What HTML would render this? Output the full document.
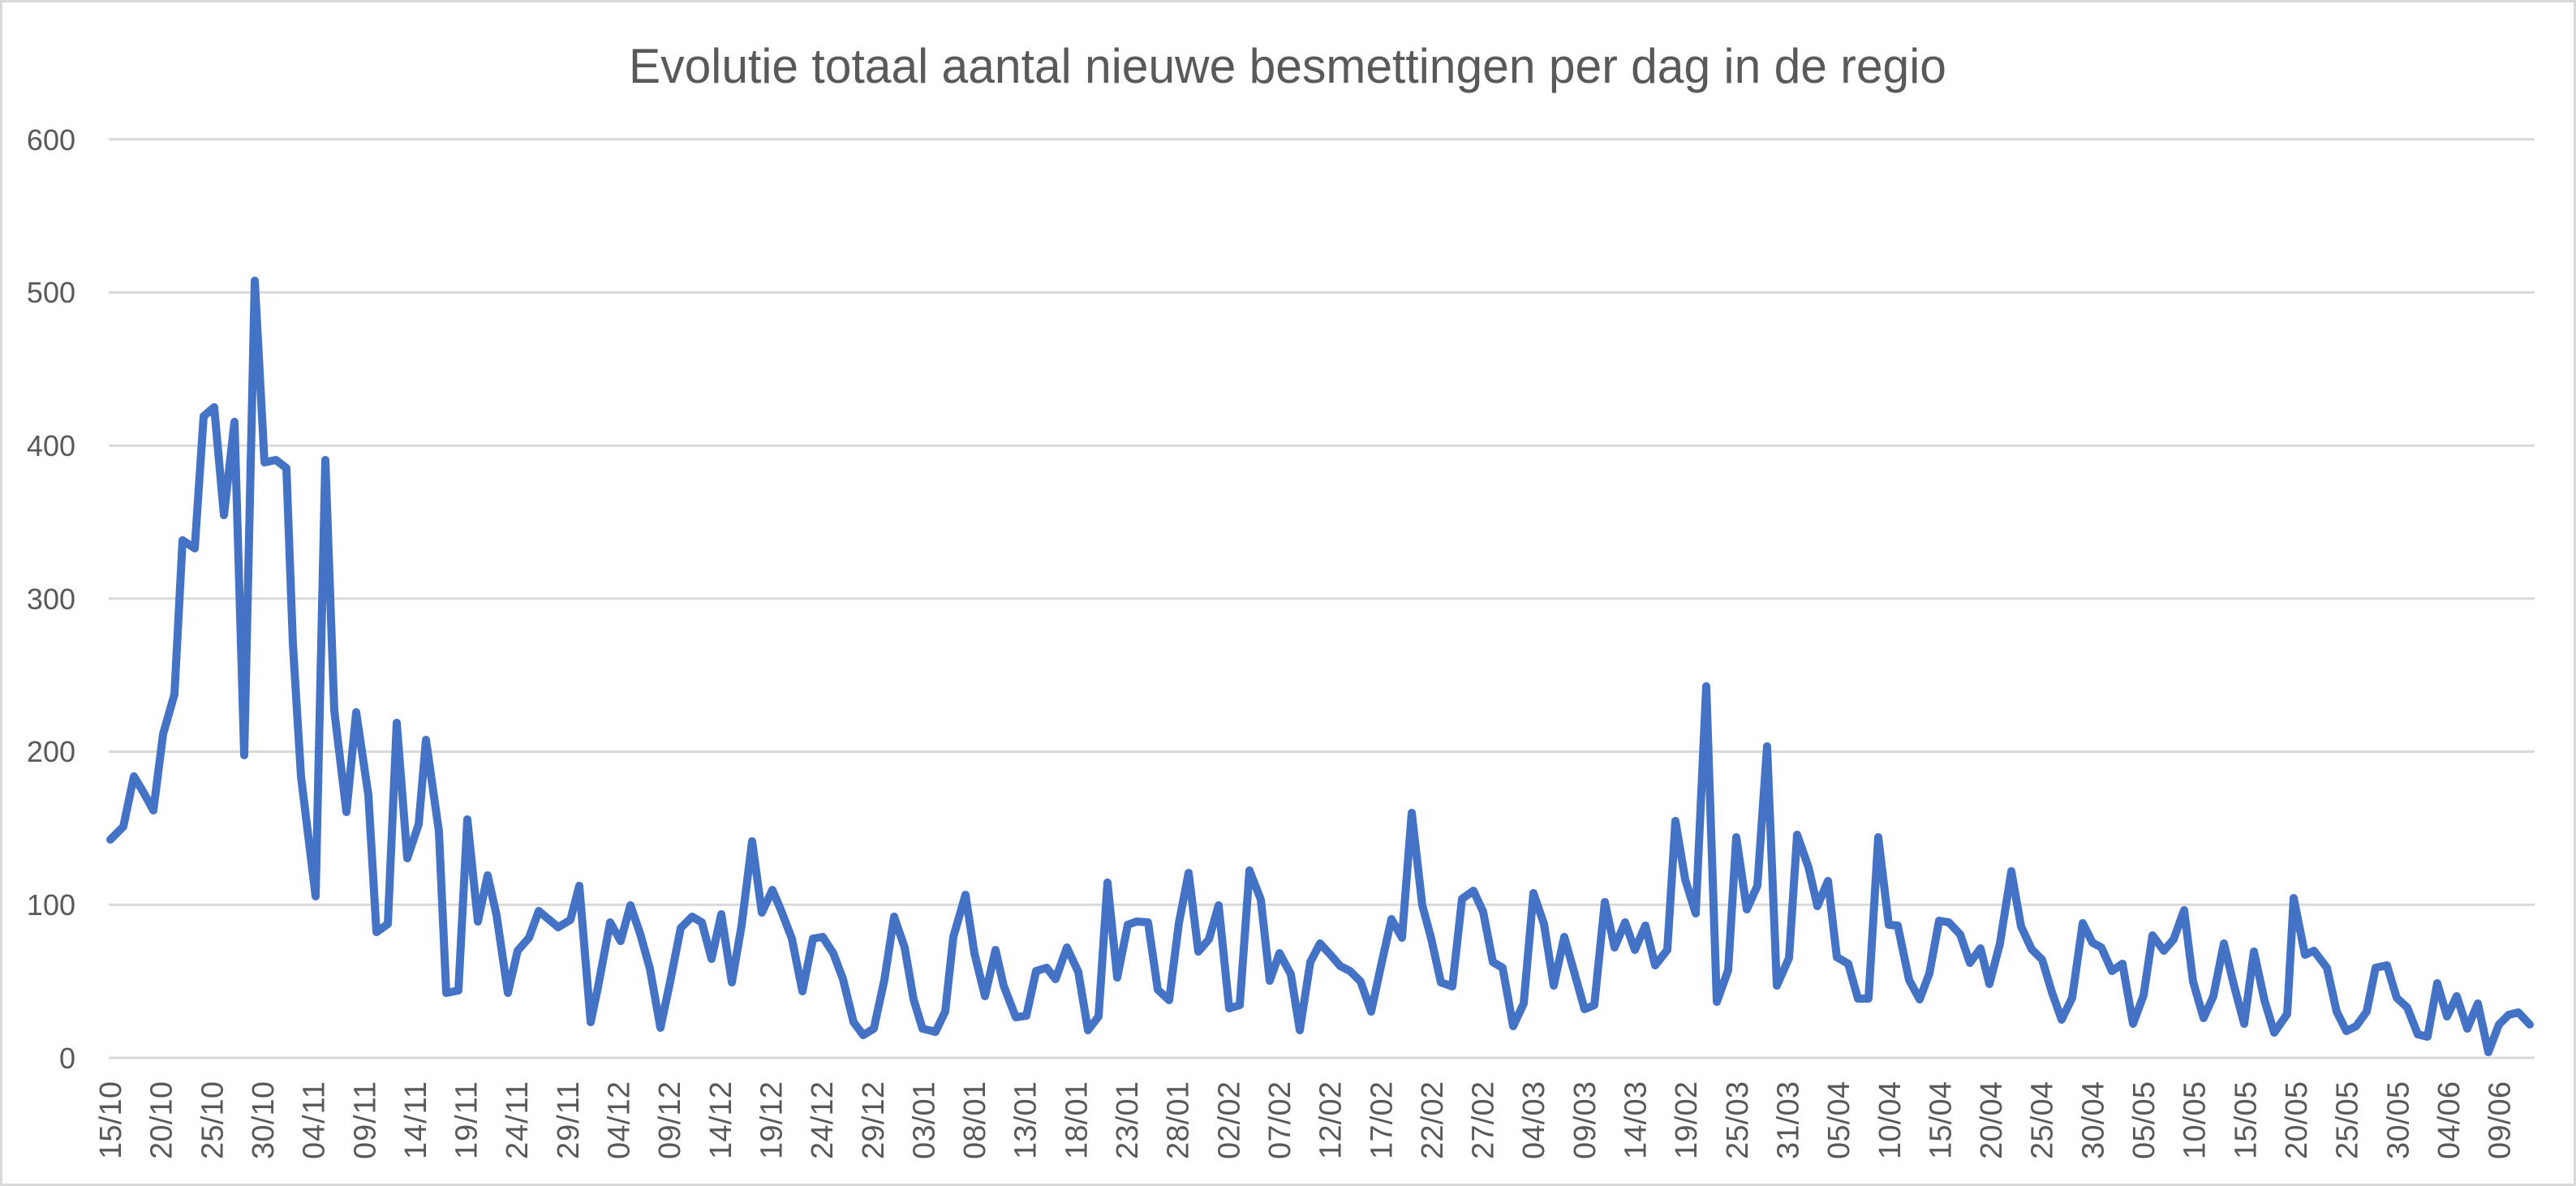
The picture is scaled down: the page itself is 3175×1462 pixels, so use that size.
<!DOCTYPE html>
<html><head><meta charset="utf-8"><style>html,body{margin:0;padding:0;background:#fff}svg{display:block}</style></head>
<body>
<svg width="3175" height="1462" viewBox="0 0 3175 1462" xmlns="http://www.w3.org/2000/svg" font-family="'Liberation Sans', sans-serif">
<rect x="1.5" y="1.5" width="3172" height="1459" fill="#fff" stroke="#d9d9d9" stroke-width="3"/>
<text x="1587" y="102" font-size="60" fill="#595959" text-anchor="middle" textLength="1624" lengthAdjust="spacingAndGlyphs">Evolutie totaal aantal nieuwe besmettingen per dag in de regio</text>
<g stroke="#d9d9d9" stroke-width="3">
<line x1="134" x2="3124" y1="1304" y2="1304"/>
<line x1="134" x2="3124" y1="1115.3" y2="1115.3"/>
<line x1="134" x2="3124" y1="926.6" y2="926.6"/>
<line x1="134" x2="3124" y1="737.9" y2="737.9"/>
<line x1="134" x2="3124" y1="549.2" y2="549.2"/>
<line x1="134" x2="3124" y1="360.5" y2="360.5"/>
<line x1="134" x2="3124" y1="171.8" y2="171.8"/>
</g>
<g font-size="36" fill="#595959" text-anchor="end">
<text x="93" y="1317">0</text>
<text x="93" y="1128">100</text>
<text x="93" y="939">200</text>
<text x="93" y="751">300</text>
<text x="93" y="562">400</text>
<text x="93" y="373">500</text>
<text x="93" y="185">600</text>
</g>
<polyline fill="none" stroke="#4472C4" stroke-width="10" stroke-linejoin="round" stroke-linecap="round" points="
136,1035 152,1019 165,957 177,977 189,999 201,905 215,856 225,666 240,676 251,513 264,502 276,635 289,520 301,931 314,346 326,570 340,567 353,577 361,794 371,957 389,1105 401,567 412,876 427,1001 439,878 454,980 464,1149 478,1139 489,891 502,1058 516,1016 525,912 541,1025 550,1224 565,1221 576,1010 589,1136 601,1079 612,1128 626,1224 638,1172 652,1156 664,1123 676,1133 688,1143 703,1134 714,1092 728,1260 737,1217
752,1137 765,1160 777,1116 789,1151 801,1194 814,1267 826,1210 839,1144 853,1130 865,1137 877,1182 889,1127 902,1211 914,1141 927,1037 939,1125 952,1097 963,1123 976,1157 989,1222 1002,1157 1014,1155 1027,1175 1039,1207 1052,1260 1064,1276 1077,1268 1090,1208 1102,1130 1115,1168 1126,1232 1137,1268 1153,1272 1165,1247 1175,1155 1190,1103 1201,1175 1214,1228 1227,1171 1237,1215 1252,1254 1265,1252 1277,1197 1290,1193 1301,1207 1315,1168 1329,1198 1341,1270 1354,1253
1365,1088 1377,1205 1390,1140 1401,1136 1415,1137 1427,1220 1441,1233 1453,1138 1465,1076 1477,1173 1490,1158 1502,1116 1515,1243 1528,1239 1540,1073 1554,1109 1565,1209 1577,1175 1591,1201 1602,1270 1615,1186 1627,1163 1639,1176 1652,1191 1664,1197 1677,1210 1690,1247 1702,1191 1715,1133 1728,1156 1740,1002 1753,1116 1764,1157 1776,1211 1790,1216 1802,1108 1816,1098 1828,1124 1840,1186 1852,1193 1865,1265 1878,1237 1890,1101 1903,1139 1915,1215 1928,1155 1941,1201 1953,1244 1965,1239
1978,1112 1990,1168 2003,1137 2015,1171 2028,1141 2040,1190 2055,1171 2065,1012 2077,1084 2090,1126 2103,846 2116,1235 2130,1196 2140,1032 2153,1121 2166,1092 2178,920 2190,1215 2205,1181 2215,1029 2229,1069 2240,1117 2253,1086 2264,1180 2278,1188 2290,1231 2303,1231 2315,1032
2328,1140 2339,1141 2353,1208 2366,1232 2378,1200 2390,1135 2402,1137 2416,1152 2428,1187 2441,1169 2452,1213 2465,1163 2479,1074 2491,1142 2504,1170 2517,1183 2529,1223 2541,1257 2554,1230 2567,1138 2579,1162 2590,1168 2603,1197 2616,1188 2629,1262 2642,1227 2653,1153 2667,1172 2679,1158 2692,1122 2703,1210 2716,1255 2728,1228 2741,1163 2753,1213 2766,1262 2778,1173 2791,1233 2803,1273 2819,1250 2827,1107 2841,1177 2852,1172 2868,1193 2880,1247 2892,1271 2904,1265 2917,1247 2928,1193 2942,1190 2954,1230 2967,1242 2980,1275 2992,1278 3004,1212 3016,1253 3028,1228 3041,1268 3054,1237 3067,1297 3080,1263 3092,1251 3104,1248 3118,1263"/>
<g font-size="38" fill="#595959" text-anchor="end" lengthAdjust="spacingAndGlyphs">
<text transform="translate(149,1333) rotate(-90)" textLength="96">15/10</text>
<text transform="translate(211.7,1333) rotate(-90)" textLength="96">20/10</text>
<text transform="translate(274.3,1333) rotate(-90)" textLength="96">25/10</text>
<text transform="translate(337,1333) rotate(-90)" textLength="96">30/10</text>
<text transform="translate(399.6,1333) rotate(-90)" textLength="96">04/11</text>
<text transform="translate(462.3,1333) rotate(-90)" textLength="96">09/11</text>
<text transform="translate(524.9,1333) rotate(-90)" textLength="96">14/11</text>
<text transform="translate(587.6,1333) rotate(-90)" textLength="96">19/11</text>
<text transform="translate(650.2,1333) rotate(-90)" textLength="96">24/11</text>
<text transform="translate(712.9,1333) rotate(-90)" textLength="96">29/11</text>
<text transform="translate(775.5,1333) rotate(-90)" textLength="96">04/12</text>
<text transform="translate(838.2,1333) rotate(-90)" textLength="96">09/12</text>
<text transform="translate(900.8,1333) rotate(-90)" textLength="96">14/12</text>
<text transform="translate(963.5,1333) rotate(-90)" textLength="96">19/12</text>
<text transform="translate(1026.1,1333) rotate(-90)" textLength="96">24/12</text>
<text transform="translate(1088.8,1333) rotate(-90)" textLength="96">29/12</text>
<text transform="translate(1151.4,1333) rotate(-90)" textLength="96">03/01</text>
<text transform="translate(1214.1,1333) rotate(-90)" textLength="96">08/01</text>
<text transform="translate(1276.7,1333) rotate(-90)" textLength="96">13/01</text>
<text transform="translate(1339.4,1333) rotate(-90)" textLength="96">18/01</text>
<text transform="translate(1402,1333) rotate(-90)" textLength="96">23/01</text>
<text transform="translate(1464.7,1333) rotate(-90)" textLength="96">28/01</text>
<text transform="translate(1527.3,1333) rotate(-90)" textLength="96">02/02</text>
<text transform="translate(1590,1333) rotate(-90)" textLength="96">07/02</text>
<text transform="translate(1652.6,1333) rotate(-90)" textLength="96">12/02</text>
<text transform="translate(1715.3,1333) rotate(-90)" textLength="96">17/02</text>
<text transform="translate(1777.9,1333) rotate(-90)" textLength="96">22/02</text>
<text transform="translate(1840.6,1333) rotate(-90)" textLength="96">27/02</text>
<text transform="translate(1903.2,1333) rotate(-90)" textLength="96">04/03</text>
<text transform="translate(1965.9,1333) rotate(-90)" textLength="96">09/03</text>
<text transform="translate(2028.5,1333) rotate(-90)" textLength="96">14/03</text>
<text transform="translate(2091.2,1333) rotate(-90)" textLength="96">19/02</text>
<text transform="translate(2153.8,1333) rotate(-90)" textLength="96">25/03</text>
<text transform="translate(2216.5,1333) rotate(-90)" textLength="96">31/03</text>
<text transform="translate(2279.1,1333) rotate(-90)" textLength="96">05/04</text>
<text transform="translate(2341.8,1333) rotate(-90)" textLength="96">10/04</text>
<text transform="translate(2404.4,1333) rotate(-90)" textLength="96">15/04</text>
<text transform="translate(2467.1,1333) rotate(-90)" textLength="96">20/04</text>
<text transform="translate(2529.7,1333) rotate(-90)" textLength="96">25/04</text>
<text transform="translate(2592.4,1333) rotate(-90)" textLength="96">30/04</text>
<text transform="translate(2655,1333) rotate(-90)" textLength="96">05/05</text>
<text transform="translate(2717.7,1333) rotate(-90)" textLength="96">10/05</text>
<text transform="translate(2780.3,1333) rotate(-90)" textLength="96">15/05</text>
<text transform="translate(2843,1333) rotate(-90)" textLength="96">20/05</text>
<text transform="translate(2905.6,1333) rotate(-90)" textLength="96">25/05</text>
<text transform="translate(2968.3,1333) rotate(-90)" textLength="96">30/05</text>
<text transform="translate(3030.9,1333) rotate(-90)" textLength="96">04/06</text>
<text transform="translate(3093.6,1333) rotate(-90)" textLength="96">09/06</text>
</g>
</svg>
</body></html>
